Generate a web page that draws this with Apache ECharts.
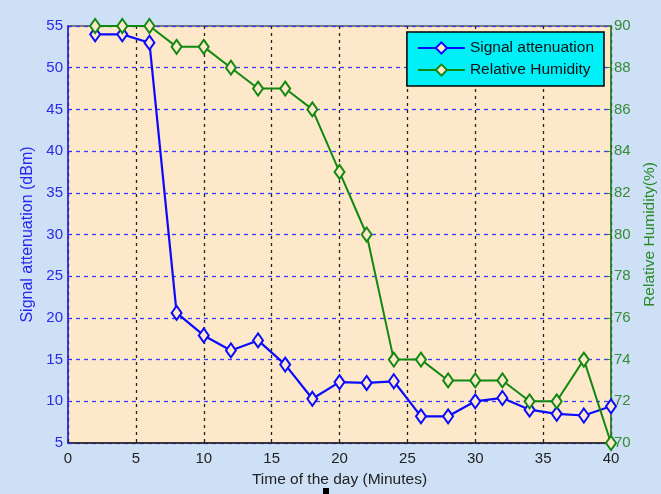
<!DOCTYPE html>
<html><head><meta charset="utf-8">
<script src="https://cdn.jsdelivr.net/npm/echarts@6/dist/echarts.min.js"></script>
<style>html,body{margin:0;padding:0;background:#cde0f5;}#c{width:661px;height:494px;}</style>
</head><body><div id="c"></div>
<script>
const timeMinutes = [2,4,6,8,10,12,14,16,18,20,22,24,26,28,30,32,34,36,38,40];
const signalAttenuation = [54,54,53,20.6,17.9,16.1,17.3,14.4,10.3,12.3,12.2,12.4,8.2,8.2,10.0,10.4,9.0,8.5,8.3,9.4];
const relativeHumidity = [90,90,90,89,89,88,87,87,86,83,80,74,74,73,73,73,72,72,74,70];
const seriesNames = ['Signal attenuation','Relative Humidity'];

const plotBg = '#fde9c9';
const chart = echarts.init(document.getElementById('c'), null, {renderer:'canvas'});
const font = 'Arial, "Liberation Sans", sans-serif';
chart.setOption({
  backgroundColor: '#cde0f5',
  animation: false,
  grid: {left: 68, right: 50, top: 26, bottom: 51, outerBoundsMode: 'none', containLabel: false,
         show: true, backgroundColor: plotBg, borderColor: '#555', borderWidth: 1.5},
  legend: {
    right: 57, top: 32, orient: 'vertical', itemGap: 6,
    backgroundColor: '#00f0f8', borderColor: '#000', borderWidth: 1.5,
    padding: [8, 10, 8, 10], itemWidth: 47, itemHeight: 14,
    textStyle: {fontFamily: font, fontSize: 15.5, color: '#111'},
    data: seriesNames
  },
  xAxis: {
    type: 'value', min: 0, max: 40, interval: 5,
    name: 'Time of the day (Minutes)', nameLocation: 'middle', nameGap: 29,
    nameTextStyle: {fontFamily: font, fontSize: 15.5, color: '#222'},
    axisLine: {lineStyle: {color: '#222', width: 1.5}},
    axisTick: {inside: true, length: 4, lineStyle: {color: '#222'}},
    axisLabel: {fontFamily: font, fontSize: 15, color: '#222', margin: 8},
    splitLine: {show: true, lineStyle: {color: '#222', type: [3,4], width: 1.3}}
  },
  yAxis: [{
    type: 'value', min: 5, max: 55, interval: 5, position: 'left',
    name: 'Signal attenuation (dBm)', nameLocation: 'middle', nameGap: 31, nameRotate: 90,
    nameTextStyle: {fontFamily: font, fontSize: 16, color: '#2626f0'},
    axisLine: {show: true, lineStyle: {color: '#2a2aff', width: 1.5}},
    axisTick: {show: true, inside: true, length: 4, lineStyle: {color: '#2a2aff'}},
    axisLabel: {fontFamily: font, fontSize: 15, color: '#2a2ae8', margin: 5},
    splitLine: {show: true, lineStyle: {color: '#3a3aff', type: [4,4], width: 1.3}}
  },{
    type: 'value', min: 70, max: 90, interval: 2, position: 'right',
    name: 'Relative Humidity(%)', nameLocation: 'middle', nameGap: 24, nameRotate: 90,
    nameTextStyle: {fontFamily: font, fontSize: 15.5, color: '#2a8a2a'},
    axisLine: {show: true, lineStyle: {color: '#2a8a2a', width: 1.5}},
    axisTick: {show: true, inside: true, length: 4, lineStyle: {color: '#2a8a2a'}},
    axisLabel: {fontFamily: font, fontSize: 15, color: '#3a8a3a', margin: 3},
    splitLine: {show: false}
  }],
  series: [{
    name: seriesNames[0], type: 'line', yAxisIndex: 0,
    data: timeMinutes.map((t,i)=>[t, signalAttenuation[i]]),
    symbol: 'diamond', symbolSize: [10,14],
    lineStyle: {color: '#0a0aff', width: 2.2},
    itemStyle: {color: plotBg, borderColor: '#0a0aff', borderWidth: 2},
    z: 3
  },{
    name: seriesNames[1], type: 'line', yAxisIndex: 1,
    data: timeMinutes.map((t,i)=>[t, relativeHumidity[i]]),
    symbol: 'diamond', symbolSize: [10,14],
    lineStyle: {color: '#118811', width: 2},
    itemStyle: {color: plotBg, borderColor: '#118811', borderWidth: 2},
    z: 4
  }],
  graphic: [{type: 'rect', shape: {x: 323, y: 488, width: 6, height: 6}, style: {fill: '#000'}}]
});
</script></body></html>
